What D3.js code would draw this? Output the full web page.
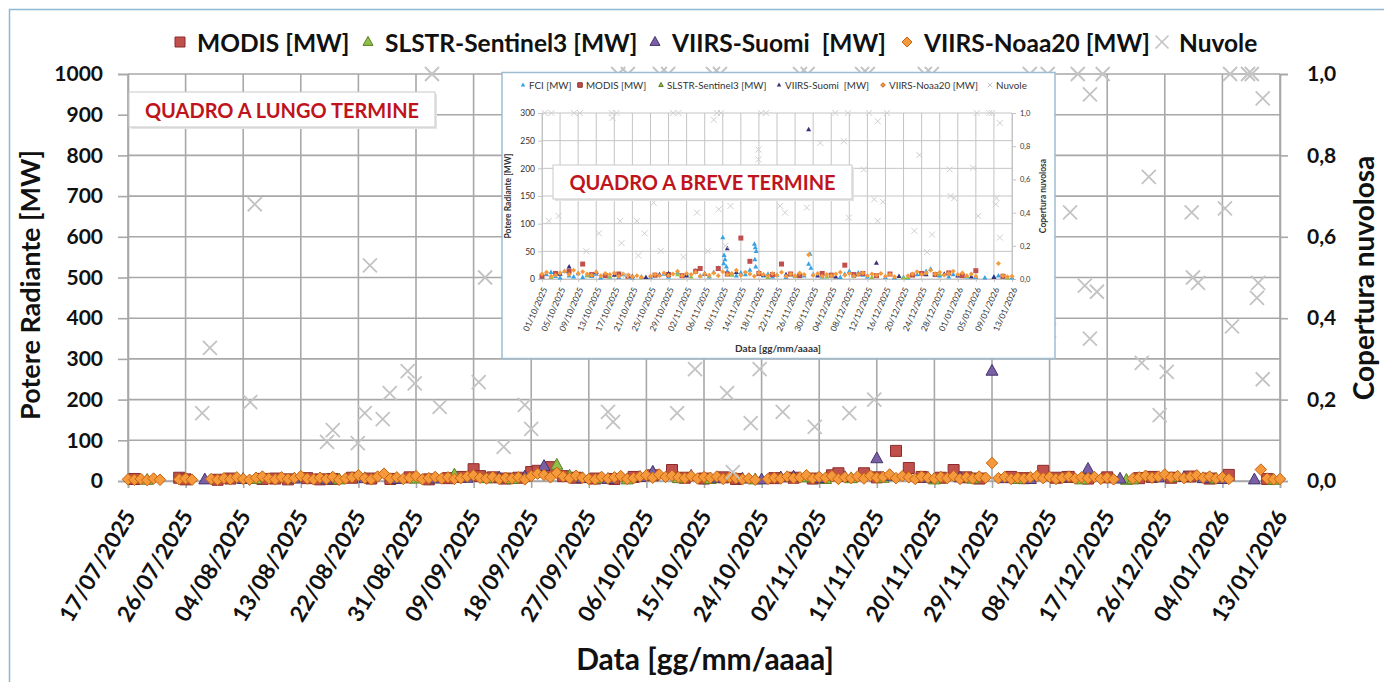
<!DOCTYPE html>
<html><head><meta charset="utf-8">
<script src="https://cdn.jsdelivr.net/npm/d3@7"></script>
<style>
body{margin:0;background:#fff}
svg{display:block}
text{font-family:Lato,'Open Sans',sans-serif}
</style>
</head><body>
<svg id="c" width="1384" height="682"></svg>
<script>
// ---------------- DATA ----------------
// x = days after 17/07/2025
const tickLabels = ["17/07/2025","26/07/2025","04/08/2025","13/08/2025","22/08/2025","31/08/2025","09/09/2025","18/09/2025","27/09/2025","06/10/2025","15/10/2025","24/10/2025","02/11/2025","11/11/2025","20/11/2025","29/11/2025","08/12/2025","17/12/2025","26/12/2025","04/01/2026","13/01/2026"];
const tickDays = [0,9,18,27,36,45,54,63,72,81,90,99,108,117,126,135,144,153,162,171,180];
const mwTicks = [0,100,200,300,400,500,600,700,800,900,1000];
const cloudTicks = [0,0.2,0.4,0.6,0.8,1.0];

const insetTickLabels = ["01/10/2025","05/10/2025","09/10/2025","13/10/2025","17/10/2025","21/10/2025","25/10/2025","29/10/2025","02/11/2025","06/11/2025","10/11/2025","14/11/2025","18/11/2025","22/11/2025","26/11/2025","30/11/2025","04/12/2025","08/12/2025","12/12/2025","16/12/2025","20/12/2025","24/12/2025","28/12/2025","01/01/2026","05/01/2026","09/01/2026","13/01/2026"];
const insetTickDays = [76,80,84,88,92,96,100,104,108,112,116,120,124,128,132,136,140,144,148,152,156,160,164,168,172,176,180];
const insetMwTicks = [0,50,100,150,200,250,300];

const modis = [[1,5],[8,8],[9,4],[14,3],[16,6],[21,5],[23,6],[25,4],[28,7],[30,4],[32,5],[35,8],[38,6],[41,5],[44,9],[47,4],[50,7],[52,10],[54,29],[55,12],[57,9],[59,6],[61,8],[63,22],[64,25],[66,34],[68,12],[70,8],[73,6],[76,5],[79,10],[82,14],[85,27],[87,8],[90,6],[93,9],[95,5],[101,7],[104,8],[107,6],[110,14],[111,19],[115,19],[117,9],[120,74],[122,32],[124,10],[127,8],[129,27],[131,9],[133,6],[138,10],[140,7],[143,25],[145,8],[147,10],[150,6],[153,9],[158,7],[160,10],[163,8],[166,11],[169,6],[172,15],[178,5]];
const slstr = [[3,2],[20,4],[33,3],[45,5],[51,15],[56,6],[60,4],[67,39],[69,12],[74,5],[78,3],[86,6],[91,4],[98,3],[106,8],[109,4],[113,6],[118,7],[126,3],[132,5],[139,4],[149,3],[156,2],[157,3],[164,9],[170,5],[179,2]];
const suomi = [[12,3],[18,4],[26,5],[31,3],[37,6],[42,4],[48,5],[53,7],[58,8],[62,10],[65,36],[71,6],[75,4],[80,9],[82,22],[88,12],[92,7],[96,5],[99,3],[102,8],[104,10],[108,6],[112,9],[117,55],[119,12],[125,7],[130,8],[135,270],[137,6],[141,4],[146,8],[150,29],[155,5],[161,8],[165,9],[168,6],[171,4],[176,3]];
const noaa20 = [[0,4],[1,3],[2,5],[3,2],[4,6],[5,3],[8,4],[9,6],[10,3],[13,5],[14,3],[15,7],[16,4],[17,9],[18,5],[19,3],[20,8],[21,11],[22,6],[23,4],[24,9],[25,5],[26,7],[27,12],[28,6],[29,4],[30,8],[31,5],[32,10],[33,3],[34,6],[35,9],[36,14],[37,7],[38,4],[39,11],[40,18],[41,6],[42,9],[43,5],[44,8],[45,12],[46,4],[47,7],[48,10],[49,6],[50,9],[51,5],[52,7],[53,11],[54,14],[55,8],[56,6],[57,10],[58,5],[59,8],[60,6],[61,9],[62,4],[63,12],[64,18],[65,15],[66,9],[67,20],[68,11],[69,7],[70,13],[71,8],[72,5],[73,4],[74,10],[75,6],[76,9],[77,12],[78,5],[79,7],[80,11],[81,14],[82,8],[83,16],[84,10],[85,13],[86,9],[87,7],[88,12],[89,6],[90,10],[91,8],[92,11],[93,5],[94,9],[95,7],[96,4],[97,6],[98,3],[100,5],[101,8],[102,6],[103,11],[104,7],[105,9],[106,14],[107,6],[108,10],[109,8],[110,12],[111,5],[112,9],[113,7],[114,11],[115,6],[116,13],[117,8],[118,10],[119,16],[120,7],[121,12],[122,9],[123,5],[124,11],[125,8],[126,6],[127,10],[128,7],[129,12],[130,5],[131,9],[132,6],[133,11],[134,8],[135,44],[136,7],[137,10],[138,5],[139,8],[140,6],[141,9],[142,12],[143,7],[144,10],[145,5],[146,8],[147,11],[148,6],[149,9],[150,7],[151,10],[152,5],[153,8],[154,4],[157,6],[158,9],[159,13],[160,8],[161,11],[162,16],[163,9],[164,12],[165,7],[166,10],[167,14],[168,8],[169,11],[170,6],[171,9],[172,5],[177,28],[178,6],[179,4],[180,5]];
const nuvole = [[11.6,0.167],[12.8,0.327],[19.1,0.194],[19.8,0.68],[31.1,0.096],[32,0.125],[35.9,0.093],[37,0.167],[37.8,0.53],[39.8,0.152],[40.9,0.216],[43.7,0.27],[44.8,0.24],[47.5,1.0],[48.7,0.182],[54.8,0.243],[55.8,0.5],[58.7,0.084],[62,0.187],[63,0.128],[75,0.17],[75.8,0.145],[76.6,1.0],[77.5,0.35],[78.1,1.0],[79.7,0.38],[83.1,1.0],[84.4,1.0],[85.8,0.167],[88.6,0.275],[91.4,1.0],[91.6,0.97],[92.5,1.0],[93.3,0.35],[93.6,0.216],[94.5,0.022],[97,0.35],[97.3,0.142],[98.7,0.275],[100.7,0.46],[102.3,0.17],[105,1.0],[106.2,1.0],[107.3,0.133],[110.3,0.4],[112.7,0.167],[114,0.96],[114.7,1.0],[115.1,0.42],[115.6,1.0],[116.6,0.2],[117.7,0.44],[123.9,0.78],[123.9,0.72],[124.5,1.0],[125.6,1.0],[128.7,0.44],[129.8,0.4],[134.6,0.43],[137.6,0.82],[140.9,1.0],[142.8,0.83],[143.7,1.0],[143.9,0.37],[147.2,0.66],[148.4,1.0],[149.5,0.48],[150.3,0.95],[150.3,0.35],[151.4,0.465],[152.3,1.0],[158.4,0.29],[159.5,0.747],[161.2,0.162],[162.3,0.268],[166.2,0.66],[166.4,0.5],[167.2,0.487],[171.4,0.67],[172.2,1.0],[172.5,0.38],[175,1.0],[175.6,1.0],[176.4,0.45],[176.6,0.487],[177.3,0.94],[177.3,0.25]];
// FCI only appears in the short-term inset
const fci = [[76,3],[77,8],[78,12],[79,5],[80,2],[81,14],[82,6],[83,4],[84,10],[85,3],[86,7],[87,5],[88,9],[89,2],[90,6],[91,4],[93,3],[94,8],[96,2],[98,4],[100,3],[101,6],[103,9],[104,4],[106,12],[107,5],[108,8],[110,15],[111,6],[112,10],[113,4],[114,12],[115,20],[116,75],[116.3,43],[116.5,35],[116.2,28],[116.8,22],[117,14],[118,9],[119,6],[120,11],[121,8],[122,16],[123,63],[123.2,57],[123.4,50],[123.1,35],[123.3,22],[124,12],[125,6],[126,9],[127,4],[128,7],[130,3],[131,8],[132,5],[134,6],[135,27],[135.3,45],[135.5,20],[136,8],[138,4],[140,6],[142,3],[143,9],[144,14],[145,5],[146,11],[147,7],[148,4],[150,6],[152,3],[154,2],[156,3],[157,2],[159,8],[161,14],[162,18],[163,9],[164,6],[166,4],[167,8],[169,10],[170,4],[172,3],[174,2],[176,4],[177,6],[178,3],[180,2]];

const legendNames = ["MODIS [MW]","SLSTR-Sentinel3 [MW]","VIIRS-Suomi  [MW]","VIIRS-Noaa20 [MW]","Nuvole"];
const insetLegendNames = ["FCI [MW]","MODIS [MW]","SLSTR-Sentinel3 [MW]","VIIRS-Suomi  [MW]","VIIRS-Noaa20 [MW]","Nuvole"];

// ---------------- HELPERS ----------------
const shape = {
  square: s => `M${-s/2},${-s/2}h${s}v${s}h${-s}Z`,
  triangle: s => { const h = s*0.9; return `M0,${-h*0.62}L${s/2},${h*0.38}L${-s/2},${h*0.38}Z`; },
  diamond: s => `M0,${-s/2}L${s/2},0L0,${s/2}L${-s/2},0Z`,
  cross: s => `M${-s/2},${-s/2}L${s/2},${s/2}M${-s/2},${s/2}L${s/2},${-s/2}`
};
const styles = {
  modis:  {shape:"square",   fill:"#c0504d", stroke:"#8a2d2a"},
  slstr:  {shape:"triangle", fill:"#8fbf4a", stroke:"#5b7f25"},
  suomi:  {shape:"triangle", fill:"#7a5fa6", stroke:"#45356b"},
  noaa20: {shape:"diamond",  fill:"#f59a3c", stroke:"#c8620f"},
  nuvole: {shape:"cross",    fill:"none",    stroke:"#c3c3c3"},
  fci:    {shape:"triangle", fill:"#35a2e6", stroke:"none"}
};
const fmtC = d3.formatLocale({decimal:",",thousands:".",grouping:[3],currency:["","€"]}).format(".1f");

const svg = d3.select("#c");

// outer frame
svg.append("path").attr("d","M9.5,682V9.5H1384").attr("fill","none").attr("stroke","#8fb6d2").attr("stroke-width",1.5);

// ---------------- MAIN CHART ----------------
const xM = d3.scaleLinear().domain([0,180]).range([128,1280]);
const yM = d3.scaleLinear().domain([0,1000]).range([481,74]);
const yC = d3.scaleLinear().domain([0,1]).range([481,74]);
const gridCol = "#a8a8a8";

const main = svg.append("g");
main.append("g").selectAll("line").data(mwTicks).join("line")
  .attr("x1",xM(0)).attr("x2",xM(180)).attr("y1",d=>yM(d)).attr("y2",d=>yM(d))
  .attr("stroke",gridCol).attr("stroke-width",1.6);
main.append("g").selectAll("line").data(tickDays).join("line")
  .attr("x1",d=>xM(d)).attr("x2",d=>xM(d)).attr("y1",yM(0)).attr("y2",yM(1000))
  .attr("stroke",gridCol).attr("stroke-width",1.6);

function styleAxis(g, size){
  g.select(".domain").attr("stroke",gridCol).attr("stroke-width",1.6);
  g.selectAll(".tick line").attr("stroke",gridCol).attr("stroke-width",1.6);
  g.selectAll(".tick text").attr("fill","#111").attr("font-weight","bold").attr("font-size",size).attr("font-family","Lato, 'Open Sans', sans-serif");
}
const axL = main.append("g").attr("transform",`translate(${xM(0)},0)`)
  .call(d3.axisLeft(yM).tickValues(mwTicks).tickSize(10).tickPadding(15).tickFormat(d3.format("d")));
styleAxis(axL,21);
const axR = main.append("g").attr("transform",`translate(${xM(180)},0)`)
  .call(d3.axisRight(yC).tickValues(cloudTicks).tickSize(8).tickPadding(19).tickFormat(fmtC));
styleAxis(axR,21);
const axB = main.append("g").attr("transform",`translate(0,${yM(0)})`)
  .call(d3.axisBottom(xM).tickValues(tickDays).tickSize(7).tickFormat((d,i)=>tickLabels[i]));
styleAxis(axB,22.5);
axB.selectAll(".tick text").attr("text-anchor","end").attr("dy",null).attr("y",null)
  .attr("transform","translate(3,32) rotate(-59)").attr("dominant-baseline","middle");

function drawSeries(g, data, st, xs, ys, size, sw){
  g.append("g").selectAll("path").data(data).join("path")
    .attr("transform",d=>`translate(${xs(d[0])},${ys(d[1])})`)
    .attr("d",shape[st.shape](size))
    .attr("fill",st.fill).attr("stroke",st.stroke).attr("stroke-width",sw);
}
drawSeries(main, modis, styles.modis, xM, yM, 11, 1);
drawSeries(main, slstr, styles.slstr, xM, yM, 12, 1);
drawSeries(main, suomi, styles.suomi, xM, yM, 12, 1);
drawSeries(main, noaa20, styles.noaa20, xM, yM, 11.5, 1);
drawSeries(main, nuvole, styles.nuvole, xM, yC, 14, 1.8);

// axis titles
svg.append("text").attr("transform","translate(40,285) rotate(-90)").attr("text-anchor","middle")
  .attr("font-size",27).attr("font-weight","bold").attr("fill","#111").text("Potere Radiante [MW]");
svg.append("text").attr("transform","translate(1374,278) rotate(-90)").attr("text-anchor","middle")
  .attr("font-size",28).attr("font-weight","bold").attr("fill","#111").text("Copertura nuvolosa");
svg.append("text").attr("x",705).attr("y",670).attr("text-anchor","middle")
  .attr("font-size",30).attr("font-weight","bold").attr("fill","#111").text("Data [gg/mm/aaaa]");

function labelBox(x,y,w,h,txt,fs){
  const g = svg.append("g");
  g.append("rect").attr("x",x+2).attr("y",y+2).attr("width",w).attr("height",h).attr("fill","#e4e4e4");
  g.append("rect").attr("x",x).attr("y",y).attr("width",w).attr("height",h).attr("fill","#fff").attr("stroke","#c9c9c9").attr("stroke-width",1);
  g.append("text").attr("x",x+w/2).attr("y",y+h/2).attr("text-anchor","middle").attr("dominant-baseline","central")
    .attr("font-family","'Liberation Sans', Arial, sans-serif").attr("font-weight","bold").attr("font-size",fs).attr("fill","#c0141c").text(txt);
}
labelBox(129,92,306,35,"QUADRO A LUNGO TERMINE",20);

// main legend
const legX = [180,368,655,907,1162];
const legKeys = ["modis","slstr","suomi","noaa20","nuvole"];
legendNames.forEach((n,i)=>{
  const st = styles[legKeys[i]];
  svg.append("path").attr("transform",`translate(${legX[i]},42)`)
    .attr("d",shape[st.shape](st.shape==="cross"?13:10))
    .attr("fill",st.fill).attr("stroke",st.stroke).attr("stroke-width",st.shape==="cross"?1.6:1);
  svg.append("text").attr("x",legX[i]+17).attr("y",42).attr("dominant-baseline","central")
    .attr("font-size",24.5).attr("font-weight","bold").attr("fill","#111").attr("xml:space","preserve").text(n);
});

// ---------------- INSET ----------------
const inset = svg.append("g");
inset.append("rect").attr("x",502).attr("y",72.5).attr("width",553).attr("height",286).attr("fill","#fff")
  .attr("stroke","#9fbdd2").attr("stroke-width",1.5);
const xI = d3.scaleLinear().domain([76,180]).range([542,1012]);
const yI = d3.scaleLinear().domain([0,300]).range([279,113]);
const yIC = d3.scaleLinear().domain([0,1]).range([279,113]);
const gCol = "#c4c4c4";
inset.append("g").selectAll("line").data(insetMwTicks).join("line")
  .attr("x1",xI(76)).attr("x2",xI(180)).attr("y1",d=>yI(d)).attr("y2",d=>yI(d)).attr("stroke",gCol).attr("stroke-width",1);
inset.append("g").selectAll("line").data(insetTickDays).join("line")
  .attr("x1",d=>xI(d)).attr("x2",d=>xI(d)).attr("y1",yI(0)).attr("y2",yI(300)).attr("stroke",gCol).attr("stroke-width",1);

function styleSmall(g,size){
  g.select(".domain").attr("stroke",gCol);
  g.selectAll(".tick line").attr("stroke",gCol);
  g.selectAll(".tick text").attr("fill","#333").attr("font-size",size).attr("font-family","Lato, 'Open Sans', sans-serif");
}
const iL = inset.append("g").attr("transform",`translate(${xI(76)},0)`)
  .call(d3.axisLeft(yI).tickValues(insetMwTicks).tickSize(4).tickPadding(3).tickFormat(d3.format("d")));
styleSmall(iL,8.5);
const iR = inset.append("g").attr("transform",`translate(${xI(180)},0)`)
  .call(d3.axisRight(yIC).tickValues(cloudTicks).tickSize(4).tickPadding(4).tickFormat(fmtC));
styleSmall(iR,7.5);
const iB = inset.append("g").attr("transform",`translate(0,${yI(0)})`)
  .call(d3.axisBottom(xI).tickValues(insetTickDays).tickSize(3).tickFormat((d,i)=>insetTickLabels[i]));
styleSmall(iB,8.5);
iB.selectAll(".tick text").attr("text-anchor","end").attr("dy",null).attr("y",null)
  .attr("transform","translate(3,9) rotate(-66)").attr("dominant-baseline","middle");

const inRange = d => d[0] >= 76;
const suomiInset = {shape:"triangle",fill:"#3a2f78",stroke:"none"};
drawSeries(inset, fci, styles.fci, xI, yI, 5, 0);
drawSeries(inset, modis.filter(inRange), styles.modis, xI, yI, 5, 0);
drawSeries(inset, slstr.filter(inRange), styles.slstr, xI, yI, 5, 0);
drawSeries(inset, suomi.filter(inRange), suomiInset, xI, yI, 5, 0);
drawSeries(inset, noaa20.filter(inRange), styles.noaa20, xI, yI, 5, 0);
drawSeries(inset, nuvole.filter(inRange), {shape:"cross",fill:"none",stroke:"#cfcfcf"}, xI, yIC, 6, 1);

inset.append("text").attr("transform","translate(511,196) rotate(-90)").attr("text-anchor","middle")
  .attr("font-size",8.5).attr("font-weight","bold").attr("fill","#333").text("Potere Radiante [MW]");
inset.append("text").attr("transform","translate(1046,196) rotate(-90)").attr("text-anchor","middle")
  .attr("font-size",8.5).attr("font-weight","bold").attr("fill","#333").text("Copertura nuvolosa");
inset.append("text").attr("x",778).attr("y",352).attr("text-anchor","middle")
  .attr("font-size",10).attr("font-weight","bold").attr("fill","#333").text("Data [gg/mm/aaaa]");

const iLegX = [523,580,661,779,883,990];
const iLegSt = [styles.fci, styles.modis, styles.slstr, suomiInset, styles.noaa20, {shape:"cross",fill:"none",stroke:"#c3c3c3"}];
insetLegendNames.forEach((n,i)=>{
  const st = iLegSt[i];
  inset.append("path").attr("transform",`translate(${iLegX[i]},85)`).attr("d",shape[st.shape](4.5))
    .attr("fill",st.fill).attr("stroke",st.stroke).attr("stroke-width",1);
  inset.append("text").attr("x",iLegX[i]+6).attr("y",85).attr("dominant-baseline","central")
    .attr("font-size",9.8).attr("fill","#333").attr("xml:space","preserve").text(n);
});
labelBox(553,165,299,34,"QUADRO A BREVE TERMINE",20);
</script>
</body></html>
